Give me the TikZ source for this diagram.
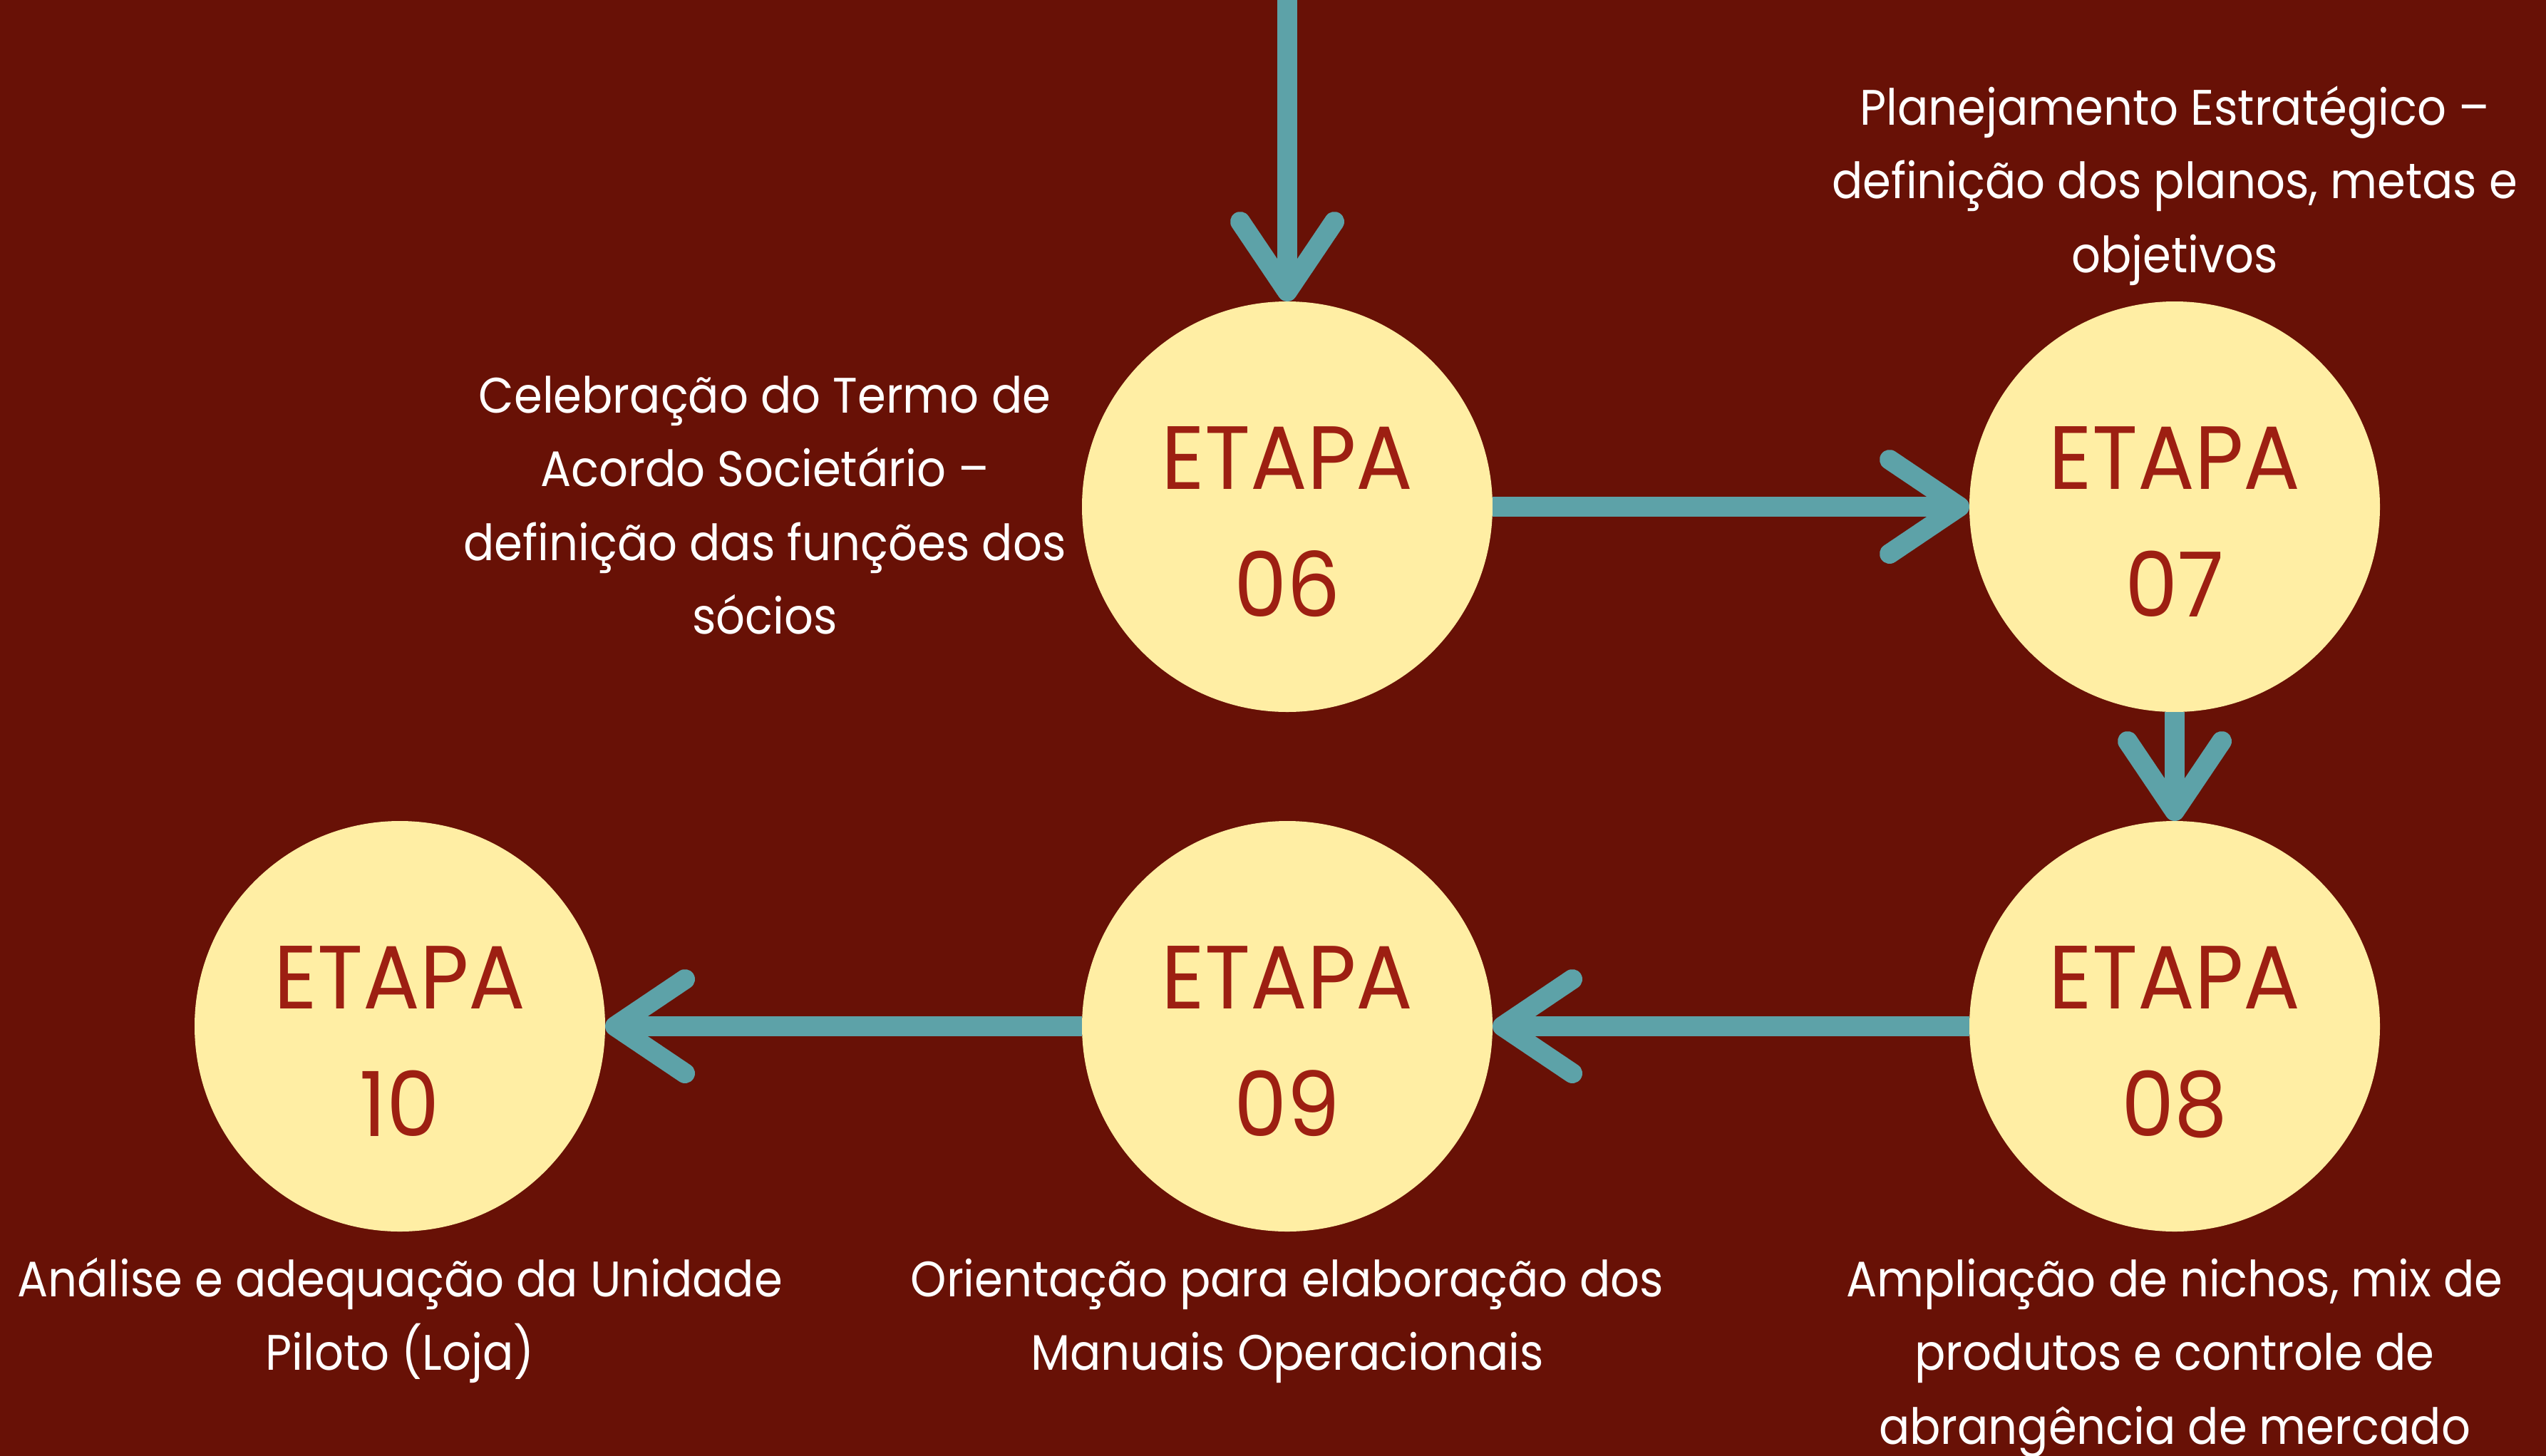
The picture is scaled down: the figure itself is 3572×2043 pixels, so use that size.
\documentclass[tikz,border=0pt]{standalone}
\usepackage{fontspec}
\setmainfont{Poppins}[FakeStretch=0.9]
\newfontfamily\descfont{Poppins}[FakeStretch=0.915]
\newfontfamily\etafont{Poppins}[FakeStretch=0.94]
\usetikzlibrary{calc}
\definecolor{bgcol}{HTML}{681106}
\definecolor{disccol}{HTML}{FFEEA4}
\definecolor{etred}{HTML}{9D1F12}
\definecolor{arrowteal}{HTML}{5DA2A8}
\newcommand\etastrut{\rule{0pt}{100pt}}
\newcommand\descstrut{\rule{0pt}{60pt}}
\begin{document}
\begin{tikzpicture}[x=1pt,y=-1pt,
  disc/.style={circle, fill=disccol, minimum size=576pt, inner sep=0pt, outer sep=0pt},
  etapa/.style={anchor=north, align=center, inner sep=0pt, text=etred, font=\etafont\fontsize{126}{179}\selectfont},
  desc/.style={anchor=north, align=center, inner sep=0pt, text=white, font=\descfont\fontsize{70}{103.5}\selectfont},
  conn/.style={draw=arrowteal, line width=28pt},
  chev/.style={draw=arrowteal, line width=28pt, line cap=round, line join=round},
]
\fill[bgcol] (0,0) rectangle (3572,2043);
\useasboundingbox (0,0) rectangle (3572,2043);

% stage discs
\node[disc] (c06) at (1806,711) {};
\node[disc] (c07) at (3051,711) {};
\node[disc] (c08) at (3051,1440) {};
\node[disc] (c09) at (1806,1440) {};
\node[disc] (c10) at (561,1440) {};

% stage texts
\node[etapa] (t06) at (1806,586) {\etastrut ETAPA\\06};
\node[etapa] (t07) at (3051,586) {\etastrut ETAPA\\07};
\node[etapa] (t08) at (3051,1315) {\etastrut ETAPA\\08};
\node[etapa] (t09) at (1806,1315) {\etastrut ETAPA\\09};
\node[etapa] (t10) at (561,1315) {\etastrut ETAPA\\10};

% descriptions
\node[desc] (d06) at (1073,519) {\descstrut Celebração do Termo de\\Acordo Societário –\\definição das funções dos\\sócios};
\node[desc] (d07) at (3051,115) {\descstrut Planejamento Estratégico –\\definição dos planos, metas e\\objetivos};
\node[desc] (d08) at (3051,1759) {\descstrut Ampliação de nichos, mix de\\produtos e controle de\\abrangência de mercado};
\node[desc] (d09) at (1806,1759) {\descstrut Orientação para elaboração dos\\Manuais Operacionais};
\node[desc] (d10) at (561,1759) {\descstrut Análise e adequação da Unidade\\Piloto (Loja)};

% connectors
\coordinate (src) at (1806,-30);
\draw[conn] (src) -- ($(c06.north)+(0,-14)$);
\draw[chev] ($(c06.north)+(-66,-112)$) -- ($(c06.north)+(0,-14)$) -- ($(c06.north)+(66,-112)$);

\draw[conn] (c06.east) -- ($(c07.west)+(-14,0)$);
\draw[chev] ($(c07.west)+(-112,-66)$) -- ($(c07.west)+(-14,0)$) -- ($(c07.west)+(-112,66)$);

\draw[conn] (c07.south) -- ($(c08.north)+(0,-14)$);
\draw[chev] ($(c08.north)+(-66,-112)$) -- ($(c08.north)+(0,-14)$) -- ($(c08.north)+(66,-112)$);

\draw[conn] (c08.west) -- ($(c09.east)+(14,0)$);
\draw[chev] ($(c09.east)+(112,-66)$) -- ($(c09.east)+(14,0)$) -- ($(c09.east)+(112,66)$);

\draw[conn] (c09.west) -- ($(c10.east)+(14,0)$);
\draw[chev] ($(c10.east)+(112,-66)$) -- ($(c10.east)+(14,0)$) -- ($(c10.east)+(112,66)$);
\end{tikzpicture}
\end{document}
